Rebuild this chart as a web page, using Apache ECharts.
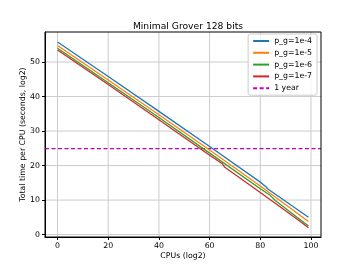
<!DOCTYPE html>
<html><head><meta charset="utf-8">
<script src="https://cdn.jsdelivr.net/npm/echarts@6/dist/echarts.min.js"></script>
<style>html,body{margin:0;padding:0;background:#fff}#c{width:356px;height:267px}</style>
</head><body><div id="c"></div>
<script>
const seriesNames = ["p_g=1e-4", "p_g=1e-5", "p_g=1e-6", "p_g=1e-7"];
const pg4 = [[0,55.8],[20,45.8],[40,35.7],[60,25.5],[80,15.2],[81,14.6],[82,14.0],[83,13.2],[99,5.0]];
const pg5 = [[0,54.8],[20,44.8],[40,34.7],[60,24.5],[80,14.1],[99,3.8]];
const pg6 = [[0,54.0],[20,44.0],[40,33.9],[60,23.6],[80,13.3],[84,11.3],[86,9.8],[99,2.5]];
const pg7 = [[0,53.5],[20,43.5],[40,33.3],[60,23.0],[65,20.5],[66,19.5],[80,12.2],[95,4.2],[99,2.0]];
const oneYear = 24.91;
const xTicks = [0,20,40,60,80,100];
const yTicks = [0,10,20,30,40,50];
const colors = ["#1f77b4","#ff7f0e","#2ca02c","#d62728","#bf00bf"];
const xMin = -4.95, xMax = 103.95;

const chart = echarts.init(document.getElementById('c'), null, {renderer:'canvas'});
const lines = [pg4,pg5,pg6,pg7].map((d,i)=>({
  name: seriesNames[i], type:'line', data:d, symbol:'none', showSymbol:false,
  lineStyle:{color:colors[i], width:1.3}, itemStyle:{color:colors[i]}, animation:false, z:3
}));
lines.push({
  name:'1 year', type:'line', data:[[xMin,oneYear],[xMax,oneYear]], symbol:'none',
  lineStyle:{color:colors[4], width:1.3, type:[4,2.5]}, itemStyle:{color:colors[4]}, animation:false, z:2
});
chart.setOption({
  animation:false,
  title:{text:'Minimal Grover 128 bits', left:183, top:17, textAlign:'center',
    textStyle:{fontFamily:'DejaVu Sans', fontSize:9.2, fontWeight:'normal', color:'#000'}},
  grid:{left:45, right:35, top:32, bottom:30, containLabel:false, show:false},
  legend:{
    right:39, top:34, orient:'vertical', itemWidth:16, itemHeight:8, itemGap:3.8,
    padding:[3,5,3,4], backgroundColor:'rgba(255,255,255,0.8)', borderColor:'#ccc', borderWidth:1, borderRadius:2,
    itemStyle:{opacity:0},
    textStyle:{fontFamily:'DejaVu Sans', fontSize:7.8, color:'#000'},
    data: seriesNames.concat(['1 year'])
  },
  xAxis:{type:'value', min:xMin, max:xMax, interval:20,
    name:'CPUs (log2)', nameLocation:'middle', nameGap:15, nameMoveOverlap:false,
    nameTextStyle:{fontFamily:'DejaVu Sans', fontSize:7.8, color:'#000'},
    axisLine:{show:true, onZero:false, lineStyle:{color:'#000', width:1}},
    axisTick:{show:true, length:3, lineStyle:{color:'#000'}, customValues:xTicks},
    axisLabel:{fontFamily:'DejaVu Sans', fontSize:7.8, color:'#000', margin:5, customValues:xTicks},
    splitLine:{show:false}
  },
  yAxis:{type:'value', min:-0.7, max:58.7, interval:10,
    name:'Total time per CPU (seconds, log2)', nameLocation:'middle', nameGap:18, nameMoveOverlap:false,
    nameTextStyle:{fontFamily:'DejaVu Sans', fontSize:7.8, color:'#000'},
    axisLine:{show:true, onZero:false, lineStyle:{color:'#000', width:1}},
    axisTick:{show:true, length:3, lineStyle:{color:'#000'}, customValues:yTicks},
    axisLabel:{fontFamily:'DejaVu Sans', fontSize:7.8, color:'#000', margin:5, customValues:yTicks},
    splitLine:{show:false}
  },
  series: lines
});
function drawExtras(){
  const g = [];
  xTicks.forEach(v=>{
    const p1 = chart.convertToPixel({gridIndex:0},[v,-0.7]);
    const p2 = chart.convertToPixel({gridIndex:0},[v,58.7]);
    g.push({type:'line', shape:{x1:p1[0],y1:p1[1],x2:p2[0],y2:p2[1]}, style:{stroke:'#cccccc', lineWidth:1}, z:0, silent:true});
  });
  yTicks.forEach(v=>{
    const p1 = chart.convertToPixel({gridIndex:0},[xMin,v]);
    const p2 = chart.convertToPixel({gridIndex:0},[xMax,v]);
    g.push({type:'line', shape:{x1:p1[0],y1:p1[1],x2:p2[0],y2:p2[1]}, style:{stroke:'#cccccc', lineWidth:1}, z:0, silent:true});
  });
  const a = chart.convertToPixel({gridIndex:0},[xMin,58.7]);
  const b = chart.convertToPixel({gridIndex:0},[xMax,-0.7]);
  g.push({type:'rect', shape:{x:a[0],y:a[1],width:b[0]-a[0],height:b[1]-a[1]}, style:{fill:null, stroke:'#000', lineWidth:1}, z:10, silent:true});
  chart.setOption({graphic:g});
}
drawExtras();
</script></body></html>
